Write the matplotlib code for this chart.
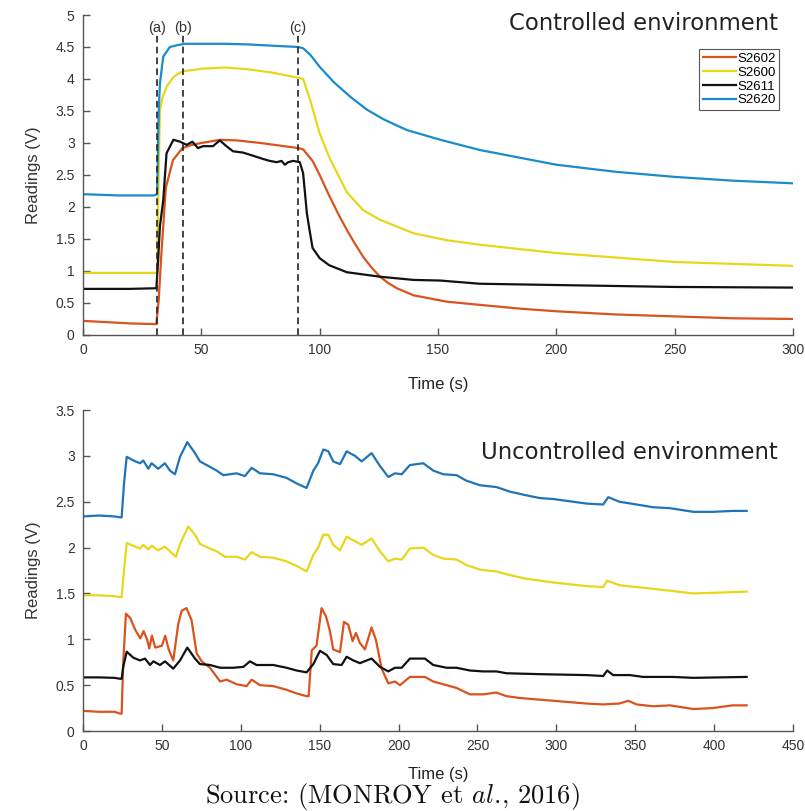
import numpy as np
import matplotlib
matplotlib.use("Agg")
import matplotlib.pyplot as plt

plt.rcParams["font.family"] = ["Liberation Sans", "DejaVu Sans"]
plt.rcParams["mathtext.fontset"] = "cm"

# ---- controlled environment (top) ----
top_names = ["S2602", "S2600", "S2611", "S2620"]
top_colors = ["#d9531e", "#e8d61a", "#111111", "#1a8bcc"]

t_red_top = [0, 10, 20, 30, 31, 32, 33, 35, 38, 42, 46, 50, 58, 65, 75, 85, 91, 93, 97, 100,
             104, 108, 111.5, 115, 118.4, 122, 125.5, 129, 132.6, 139.6, 153.7, 167.7, 185, 200,
             225, 250, 275, 300]
v_red_top = [0.22, 0.20, 0.18, 0.17, 0.17, 0.55, 1.2, 2.3, 2.73, 2.92, 2.97, 3.0, 3.05, 3.04, 3.0,
             2.95, 2.92, 2.9, 2.72, 2.5, 2.18, 1.88, 1.64, 1.42, 1.22, 1.05, 0.91, 0.81, 0.73, 0.62,
             0.52, 0.47, 0.41, 0.37, 0.32, 0.29, 0.26, 0.25]

t_yel_top = [0, 30, 31.3, 32, 32.5, 33.5, 35.3, 38, 40, 42.4, 50, 60, 70, 80, 88, 91, 93, 96, 100,
             104, 111.5, 118.4, 125.5, 139.6, 153.7, 167.7, 200, 250, 300]
v_yel_top = [0.97, 0.97, 0.97, 2.6, 3.5, 3.7, 3.88, 4.02, 4.08, 4.12, 4.16, 4.18, 4.15, 4.1, 4.04,
             4.02, 4.0, 3.67, 3.15, 2.78, 2.23, 1.95, 1.8, 1.59, 1.48, 1.41, 1.28, 1.14, 1.08]

t_blk_top = [0, 20, 31, 31.8, 32.5, 33.9, 35.3, 38.2, 41, 43.8, 46.2, 48.6, 50.7, 54.9, 57.8, 60.6,
             63.4, 67.6, 71.9, 76.1, 78.9, 81.8, 83.9, 85.3, 86.7, 88.8, 91.6, 93, 94.6, 95.9, 97,
             100, 104, 111.5, 125.5, 139.6, 151, 167.7, 200, 250, 300]
v_blk_top = [0.72, 0.72, 0.73, 1.2, 1.7, 2.1, 2.84, 3.05, 3.02, 2.97, 3.02, 2.92, 2.95, 2.95, 3.04,
             2.95, 2.87, 2.85, 2.80, 2.75, 2.72, 2.70, 2.72, 2.66, 2.70, 2.72, 2.70, 2.53, 1.9, 1.6,
             1.36, 1.2, 1.09, 0.98, 0.91, 0.86, 0.85, 0.80, 0.78, 0.75, 0.74]

t_blu_top = [0, 15, 30, 31.3, 32, 32.5, 33.9, 36.7, 40, 43, 50, 60, 70, 80, 91, 93, 96, 100, 106,
             113, 120, 127, 134, 137, 151, 167.7, 200, 225, 250, 275, 300]
v_blu_top = [2.2, 2.18, 2.18, 2.2, 3.5, 3.93, 4.35, 4.5, 4.53, 4.55, 4.55, 4.55, 4.54, 4.52, 4.5,
             4.48, 4.38, 4.19, 3.95, 3.72, 3.52, 3.37, 3.25, 3.2, 3.05, 2.89, 2.66, 2.55, 2.47,
             2.41, 2.37]

events = [31.3, 42.2, 90.8]
event_labels = ["(a)", "(b)", "(c)"]

# ---- uncontrolled environment (bottom) ----
bottom_colors = ["#d9531e", "#e8d61a", "#111111", "#1f74b8"]

t_blu_bot = [0, 10, 20, 23.4, 24.5, 26, 27.7, 31.9, 36.1, 38.2, 41.4, 43.5, 47.7, 51.9, 55.1, 58.3,
             61.5, 66.1, 71, 74.1, 80.5, 84.7, 88.9, 97.4, 102.6, 106.9, 112.2, 120.6, 129, 135.4,
             141.7, 146, 149, 152.3, 155.5, 158.6, 162.9, 167.1, 172.4, 176.6, 182.9, 188.2, 193.5,
             197.7, 202, 207.2, 215.7, 222, 228.3, 236.7, 243, 251.6, 262, 270.6, 281, 289.6, 298,
             319.2, 329.7, 332.9, 340, 350.9, 361.4, 372, 386.8, 399, 411.7, 420.6]
v_blu_bot = [2.34, 2.35, 2.34, 2.33, 2.33, 2.7, 2.99, 2.95, 2.92, 2.95, 2.86, 2.92, 2.86, 2.92,
             2.84, 2.80, 2.99, 3.15, 3.03, 2.94, 2.88, 2.84, 2.79, 2.81, 2.78, 2.87, 2.81, 2.80,
             2.76, 2.70, 2.65, 2.84, 2.92, 3.07, 3.05, 2.94, 2.91, 3.05, 3.0, 2.94, 3.03, 2.89,
             2.77, 2.81, 2.80, 2.90, 2.92, 2.84, 2.80, 2.79, 2.73, 2.68, 2.66, 2.61, 2.57, 2.54,
             2.53, 2.48, 2.47, 2.55, 2.50, 2.47, 2.44, 2.43, 2.39, 2.39, 2.40, 2.40]

t_yel_bot = [0, 10, 20, 23.4, 24.5, 26, 27.7, 31.9, 36.1, 38.2, 41.4, 43.5, 47.7, 51.9, 55.1, 58.9,
             61.5, 66.7, 71, 74.1, 80.5, 84.7, 90, 97.4, 102.6, 106.9, 112.2, 120.6, 129, 135.4,
             141.7, 146, 149, 152.3, 155.5, 158.6, 162.9, 167.1, 172.4, 176.6, 182.9, 188.2, 193.5,
             197.7, 202, 207.2, 215.7, 222, 228.3, 236.7, 243, 251.6, 262, 270.6, 281, 289.6, 298,
             319.2, 329.7, 332.2, 340, 350.9, 361.4, 372, 386.8, 403.7, 420.6]
v_yel_bot = [1.48, 1.48, 1.47, 1.46, 1.46, 1.75, 2.05, 2.02, 1.99, 2.03, 1.98, 2.02, 1.97, 2.01,
             1.96, 1.90, 2.04, 2.23, 2.14, 2.04, 1.99, 1.96, 1.90, 1.90, 1.87, 1.95, 1.90, 1.89,
             1.85, 1.80, 1.74, 1.92, 2.0, 2.14, 2.14, 2.03, 1.97, 2.12, 2.07, 2.03, 2.10, 1.96,
             1.85, 1.88, 1.87, 1.99, 2.0, 1.92, 1.88, 1.87, 1.81, 1.76, 1.74, 1.70, 1.66, 1.64,
             1.62, 1.58, 1.57, 1.64, 1.59, 1.57, 1.55, 1.53, 1.50, 1.51, 1.52]

t_blk_bot = [0, 10, 20, 23.4, 24.5, 25.5, 27.7, 31.9, 36.1, 39.3, 42.5, 44.6, 48.8, 52, 57.2, 61.5,
             66.1, 71, 74.1, 80.5, 86.9, 95.3, 101.7, 105.8, 110, 120.6, 129, 135.4, 141.7, 146,
             150.2, 154.4, 158.6, 163.9, 167.1, 171.3, 175.5, 182.9, 188.2, 193.5, 197.7, 202,
             207.2, 216.7, 222, 230.5, 236.7, 245.2, 253.7, 262, 268.4, 289.6, 319, 329.7, 332.2,
             336, 346.6, 355, 374, 386.8, 420.6]
v_blk_bot = [0.585, 0.585, 0.58, 0.57, 0.57, 0.70, 0.865, 0.80, 0.77, 0.79, 0.72, 0.76, 0.72, 0.76,
             0.68, 0.77, 0.91, 0.79, 0.73, 0.72, 0.69, 0.69, 0.70, 0.76, 0.72, 0.72, 0.69, 0.66,
             0.64, 0.73, 0.875, 0.83, 0.73, 0.72, 0.81, 0.77, 0.74, 0.79, 0.70, 0.65, 0.69, 0.69,
             0.79, 0.79, 0.72, 0.69, 0.69, 0.66, 0.65, 0.65, 0.63, 0.62, 0.61, 0.60, 0.66, 0.61,
             0.61, 0.59, 0.59, 0.58, 0.59]

t_red_bot = [0, 10, 20, 23.4, 24.5, 25.5, 27.2, 30, 33.2, 36.3, 38.4, 40.6, 42, 43.7, 45.8, 50, 52.1,
             54.3, 57.2, 60.4, 62.5, 65.6, 68.8, 72, 75.2, 80.5, 86.9, 91, 97.4, 103.7, 106.9,
             112.2, 120.6, 129, 135.4, 141.7, 143, 145, 148, 151.2, 154, 156.5, 158.6, 162.9,
             165.4, 168.1, 170.9, 173, 175.5, 178.7, 182.9, 185.7, 189.3, 193.5, 197.7, 200.9,
             207.2, 216.7, 222, 230.5, 236.7, 245.2, 253.7, 262, 268.4, 276.9, 298, 319, 329.7,
             340, 345.6, 350.9, 361.4, 372, 386.8, 399, 411.7, 420.6]
v_red_bot = [0.22, 0.21, 0.21, 0.19, 0.19, 0.75, 1.28, 1.23, 1.10, 1.01, 1.09, 1.00, 0.90, 1.04,
             0.91, 0.93, 1.04, 0.89, 0.77, 1.17, 1.31, 1.34, 1.21, 0.85, 0.76, 0.69, 0.54, 0.56,
             0.51, 0.49, 0.56, 0.50, 0.49, 0.45, 0.41, 0.38, 0.38, 0.88, 0.93, 1.34, 1.25, 1.09,
             0.89, 0.86, 1.19, 1.16, 0.98, 1.07, 0.96, 0.89, 1.13, 0.99, 0.68, 0.52, 0.54, 0.50,
             0.59, 0.59, 0.54, 0.50, 0.47, 0.40, 0.40, 0.42, 0.38, 0.36, 0.33, 0.30, 0.29, 0.30,
             0.33, 0.29, 0.27, 0.28, 0.24, 0.25, 0.28, 0.28]


def style_axes(ax, xmax, xstep, ymax):
    for s in ["top", "right"]:
        ax.spines[s].set_visible(False)
    for s in ["left", "bottom"]:
        ax.spines[s].set_color("#555555")
        ax.spines[s].set_linewidth(1.0)
    ax.set_xlim(0, xmax)
    ax.set_ylim(0, ymax)
    xt = np.arange(0, xmax + 1, xstep)
    yt = np.arange(0, ymax + 0.01, 0.5)
    ax.set_xticks(xt)
    ax.set_yticks(yt)
    ax.set_xticklabels(["%g" % x for x in xt])
    ax.set_yticklabels(["%g" % y for y in yt])
    ax.tick_params(direction="in", length=5, width=1, color="#555555",
                   labelsize=10, labelcolor="#333333", pad=6)
    ax.set_ylabel("Readings (V)", fontsize=12, color="#333333", labelpad=10)


fig = plt.figure(figsize=(8.05, 8.11), dpi=100)

ax1 = fig.add_axes([0.1031, 0.587, 0.882, 0.3945])
series_top = [(t_red_top, v_red_top), (t_yel_top, v_yel_top),
              (t_blk_top, v_blk_top), (t_blu_top, v_blu_top)]
for (t, v), name, c in zip(series_top, top_names, top_colors):
    ax1.plot(t, v, color=c, lw=1.6, label=name)
for x, lab in zip(events, event_labels):
    ax1.plot([x, x], [0, 4.69], color="#222222", lw=1.2, ls=(0, (4, 2.5)))
    ax1.text(x, 4.8, lab, ha="center", va="center", fontsize=10.5, color="#333333")
style_axes(ax1, 300, 50, 5)
ax1.set_xlabel("Time (s)", fontsize=12, color="#222222", labelpad=14)
ax1.text(0.979, 0.972, "Controlled environment", transform=ax1.transAxes,
         ha="right", va="center", fontsize=16.4, family="DejaVu Sans", color="#222222")
leg = ax1.legend(loc="upper right", bbox_to_anchor=(0.99, 0.915), fontsize=9.5,
                 handlelength=2.5, handletextpad=0.1, labelspacing=0.12, borderpad=0.3,
                 fancybox=False, framealpha=1)
leg.get_frame().set_edgecolor("#555555")
leg.get_frame().set_linewidth(0.8)

ax2 = fig.add_axes([0.1031, 0.0986, 0.882, 0.3958])
series_bot = [(t_red_bot, v_red_bot), (t_yel_bot, v_yel_bot),
              (t_blk_bot, v_blk_bot), (t_blu_bot, v_blu_bot)]
for (t, v), c in zip(series_bot, bottom_colors):
    ax2.plot(t, v, color=c, lw=1.6)
style_axes(ax2, 450, 50, 3.5)
ax2.set_xlabel("Time (s)", fontsize=12, color="#222222", labelpad=10)
ax2.text(0.979, 0.869, "Uncontrolled environment", transform=ax2.transAxes,
         ha="right", va="center", fontsize=16.4, family="DejaVu Sans", color="#222222")

fig.text(0.487, 0.018, r"Source: (MONROY et $\mathit{al.}\!$, 2016)", family="cmr10",
         ha="center", va="center", fontsize=19, color="#111111")

fig.savefig("out.png", dpi=100)
